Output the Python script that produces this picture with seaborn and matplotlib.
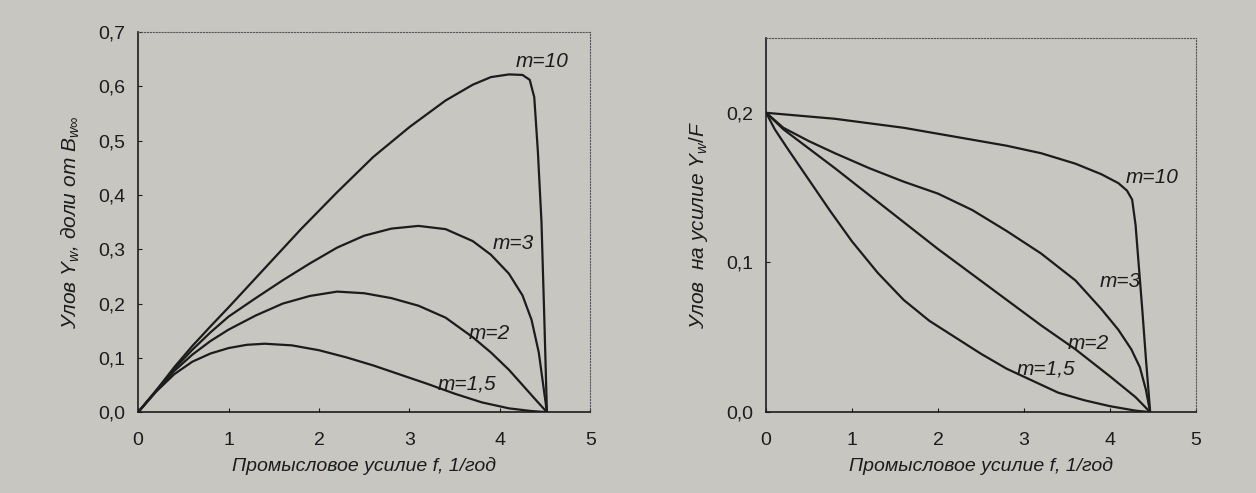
import numpy as np
import pandas as pd
import seaborn as sns
import matplotlib.pyplot as plt
from matplotlib.ticker import FuncFormatter

# левый график: улов Y_w в долях от B_w∞
f_left_15 = [0, 0.2, 0.4, 0.6, 0.8, 1.0, 1.2, 1.4, 1.7, 2.0, 2.3, 2.6, 2.9, 3.2, 3.5, 3.8, 4.1, 4.35, 4.52]
y_left_15 = [0, 0.038, 0.07, 0.093, 0.108, 0.118, 0.124, 0.126, 0.123, 0.114, 0.101, 0.086, 0.069, 0.052, 0.034, 0.018, 0.007, 0.002, 0]

f_left_2 = [0, 0.2, 0.4, 0.6, 0.8, 1.0, 1.3, 1.6, 1.9, 2.2, 2.5, 2.8, 3.1, 3.4, 3.7, 3.9, 4.1, 4.25, 4.4, 4.52]
y_left_2 = [0, 0.039, 0.076, 0.106, 0.131, 0.152, 0.178, 0.2, 0.214, 0.222, 0.219, 0.21, 0.196, 0.174, 0.138, 0.11, 0.078, 0.05, 0.022, 0]

f_left_3 = [0, 0.2, 0.4, 0.6, 0.8, 1.0, 1.3, 1.6, 1.9, 2.2, 2.5, 2.8, 3.1, 3.4, 3.7, 3.9, 4.1, 4.25, 4.35, 4.43, 4.52]
y_left_3 = [0, 0.04, 0.08, 0.115, 0.147, 0.176, 0.21, 0.243, 0.274, 0.303, 0.325, 0.338, 0.343, 0.337, 0.315, 0.29, 0.255, 0.215, 0.17, 0.11, 0]

f_left_10 = [0, 0.2, 0.4, 0.6, 0.8, 1.0, 1.4, 1.8, 2.2, 2.6, 3.0, 3.4, 3.7, 3.9, 4.1, 4.25, 4.33, 4.38, 4.42, 4.46, 4.49, 4.52]
y_left_10 = [0, 0.04, 0.083, 0.122, 0.158, 0.193, 0.265, 0.337, 0.405, 0.47, 0.525, 0.574, 0.603, 0.617, 0.622, 0.621, 0.612, 0.58, 0.48, 0.35, 0.18, 0]

# правый график: улов на усилие Y_w/F
f_right_15 = [0, 0.1, 0.25, 0.5, 0.75, 1.0, 1.3, 1.6, 1.9, 2.2, 2.5, 2.8, 3.1, 3.4, 3.7, 4.0, 4.3, 4.47]
y_right_15 = [0.2, 0.189, 0.176, 0.155, 0.134, 0.114, 0.093, 0.075, 0.061, 0.05, 0.039, 0.029, 0.021, 0.013, 0.008, 0.004, 0.001, 0]

f_right_2 = [0, 0.2, 0.5, 0.8, 1.2, 1.6, 2.0, 2.4, 2.8, 3.2, 3.6, 4.0, 4.3, 4.47]
y_right_2 = [0.2, 0.189, 0.176, 0.163, 0.145, 0.127, 0.109, 0.092, 0.075, 0.058, 0.042, 0.024, 0.01, 0]

f_right_3 = [0, 0.2, 0.5, 0.8, 1.2, 1.6, 2.0, 2.4, 2.8, 3.2, 3.6, 3.9, 4.1, 4.25, 4.35, 4.42, 4.47]
y_right_3 = [0.2, 0.19, 0.181, 0.173, 0.163, 0.154, 0.146, 0.135, 0.121, 0.106, 0.088, 0.069, 0.055, 0.042, 0.03, 0.015, 0]

f_right_10 = [0, 0.4, 0.8, 1.2, 1.6, 2.0, 2.4, 2.8, 3.2, 3.6, 3.9, 4.1, 4.2, 4.26, 4.3, 4.34, 4.38, 4.42, 4.47]
y_right_10 = [0.2, 0.198, 0.196, 0.193, 0.19, 0.186, 0.182, 0.178, 0.173, 0.166, 0.159, 0.153, 0.148, 0.142, 0.125, 0.096, 0.067, 0.036, 0]

m_labels = ['m=1,5', 'm=2', 'm=3', 'm=10']
# положение подписей (f, y)
lab_left = [(3.31, 0.052), (3.66, 0.144), (3.92, 0.31), (4.17, 0.645)]
lab_right = [(2.91, 0.029), (3.51, 0.046), (3.88, 0.087), (4.18, 0.157)]

left = pd.concat([
    pd.DataFrame({'f': f_left_15, 'y': y_left_15, 'm': '1,5'}),
    pd.DataFrame({'f': f_left_2, 'y': y_left_2, 'm': '2'}),
    pd.DataFrame({'f': f_left_3, 'y': y_left_3, 'm': '3'}),
    pd.DataFrame({'f': f_left_10, 'y': y_left_10, 'm': '10'}),
])
right = pd.concat([
    pd.DataFrame({'f': f_right_15, 'y': y_right_15, 'm': '1,5'}),
    pd.DataFrame({'f': f_right_2, 'y': y_right_2, 'm': '2'}),
    pd.DataFrame({'f': f_right_3, 'y': y_right_3, 'm': '3'}),
    pd.DataFrame({'f': f_right_10, 'y': y_right_10, 'm': '10'}),
])

sns.set_style('ticks')
plt.rcParams['font.family'] = ['Liberation Sans', 'DejaVu Sans']
plt.rcParams['mathtext.fontset'] = 'custom'
plt.rcParams['mathtext.rm'] = 'Liberation Sans'
plt.rcParams['mathtext.it'] = 'Liberation Sans:italic'

bg = '#c7c6c1'
ink = '#1c1c1c'
fig = plt.figure(figsize=(12.56, 4.93), dpi=100, facecolor=bg)
ax1 = fig.add_axes([0.110, 0.164, 0.360, 0.771])
ax2 = fig.add_axes([0.610, 0.164, 0.342, 0.759])

pal = {'1,5': ink, '2': ink, '3': ink, '10': ink}
comma = FuncFormatter(lambda v, p: f'{v:.1f}'.replace('.', ','))

for ax, df, labs in [(ax1, left, lab_left), (ax2, right, lab_right)]:
    ax.set_facecolor(bg)
    sns.lineplot(data=df, x='f', y='y', hue='m', palette=pal, estimator=None,
                 sort=False, legend=False, linewidth=1.6, ax=ax)
    for txt, (xx, yy) in zip(m_labels, labs):
        ax.text(xx, yy, txt, fontsize=15, style='italic', color=ink, va='center', ha='left')
    ax.set_xlim(0, 5)
    ax.set_xticks([0, 1, 2, 3, 4, 5])
    ax.yaxis.set_major_formatter(comma)
    ax.tick_params(direction='in', length=3, labelsize=14, colors=ink)
    ax.tick_params(axis='x', pad=14)
    ax.tick_params(axis='y', pad=9)
    for s in ['left', 'bottom']:
        ax.spines[s].set_color(ink)
        ax.spines[s].set_linewidth(1.2)
    for s in ['top', 'right']:
        ax.spines[s].set_visible(True)
        ax.spines[s].set_color('#555555')
        ax.spines[s].set_linewidth(0.8)
        ax.spines[s].set_linestyle(':')
    ax.set_xlabel('Промысловое усилие f, 1/год', fontsize=14, style='italic', color=ink, labelpad=6)

ax1.set_ylim(0, 0.7)
ax1.set_yticks(np.arange(0, 0.71, 0.1))
ax1.set_ylabel('Улов $Y_w$, доли от $B_{w\\infty}$', fontsize=15, style='italic', color=ink, labelpad=12)

ax2.set_ylim(0, 0.25)
ax2.set_yticks([0, 0.1, 0.2])
ax2.set_ylabel('Улов  на усилие $Y_w/F$', fontsize=15, style='italic', color=ink, labelpad=12)

fig.savefig('out.png', dpi=100, facecolor=bg)
